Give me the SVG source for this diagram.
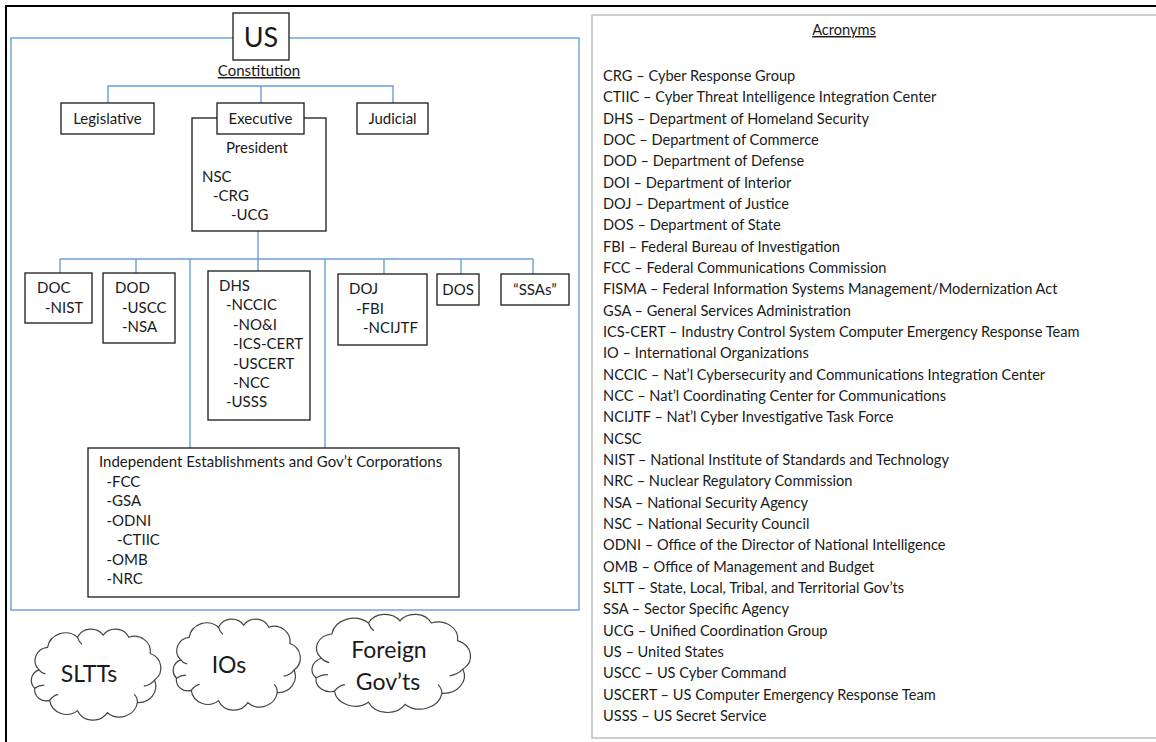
<svg xmlns="http://www.w3.org/2000/svg" width="1156" height="742" viewBox="0 0 1156 742">
<style>
text{font-family:Lato,"Liberation Sans",sans-serif;font-size:15px;fill:#1a1a1a}
.box{fill:#fff;stroke:#1a1a1a;stroke-width:1.3}
.conn{fill:none;stroke:#6A9FD6;stroke-width:1.4}
.mid{text-anchor:middle}
.big{font-size:23px}
.acr text{font-size:14.6px}
</style>
<defs>
<g id="cloudShape">
<path fill="#fff" stroke="#444" stroke-width="1.2" vector-effect="non-scaling-stroke" d="M14,42 A13,13 0 0 1 22,20 A17,17 0 0 1 50,10 A14,14 0 0 1 74,8 A14,14 0 0 1 98,10 A15,15 0 0 1 118,26 A15,15 0 0 1 122,52 A16,16 0 0 1 106,74 A17,17 0 0 1 78,84 A16,16 0 0 1 50,82 A16,16 0 0 1 24,72 A11,11 0 0 1 10,60 A11,11 0 0 1 14,42 Z"/>
<path fill="none" stroke="#444" stroke-width="1.2" vector-effect="non-scaling-stroke" d="M24,72 Q27,67 32,66 M10,60 Q14,57 19,57 M122,52 Q118,57 112,58 M106,74 Q106,69 103,66 M50,10 Q51,14 54,17 M14,42 Q16,45 20,46"/>
</g>
</defs>
<rect x="0" y="0" width="1156" height="742" fill="#fff"/>
<rect x="6" y="6" width="1170" height="760" fill="none" stroke="#000" stroke-width="2"/>
<rect id="us-container" x="11" y="38" width="568" height="572" fill="none" stroke="#6A9FD6" stroke-width="1.4"/>
<g id="connectors">
<path class="conn" d="M108,103 V86 H393 V103 M261,86 V103"/>
<path class="conn" d="M258,231 V259 M60,259 H533"/>
<path class="conn" d="M60,259 V273 M136,259 V273 M190,259 V448 M258,259 V271 M325,259 V448 M384,259 V274 M461,259 V274 M533,259 V274"/>
</g>
<g id="us">
<rect class="box" x="233" y="13" width="56" height="47"/>
<text class="mid" x="261" y="47" style="font-size:27px">US</text>
<text class="mid" x="259" y="76" text-decoration="underline">Constitution</text>
</g>
<g id="legislative">
<rect class="box" x="61" y="103" width="93" height="31"/>
<text class="mid" x="107.5" y="124">Legislative</text>
</g>
<g id="president">
<rect class="box" x="192" y="118" width="134" height="113"/>
<text class="mid" x="257" y="153">President</text>
<text x="202" y="182">NSC</text>
<text x="213" y="201">-CRG</text>
<text x="231" y="220">-UCG</text>
</g>
<g id="executive">
<rect class="box" x="217" y="103" width="87" height="31"/>
<text class="mid" x="260.5" y="124">Executive</text>
</g>
<g id="judicial">
<rect class="box" x="357" y="103" width="71" height="31"/>
<text class="mid" x="392.5" y="124">Judicial</text>
</g>
<g id="doc">
<rect class="box" x="25" y="273" width="67" height="50"/>
<text x="37" y="293">DOC</text>
<text x="45" y="312.5">-NIST</text>
</g>
<g id="dod">
<rect class="box" x="103" y="273" width="72" height="70"/>
<text x="115" y="293">DOD</text>
<text x="122" y="312.5">-USCC</text>
<text x="122" y="332">-NSA</text>
</g>
<g id="dhs">
<rect class="box" x="208" y="271" width="102" height="149"/>
<text x="219" y="290.5">DHS</text>
<text x="226" y="310">-NCCIC</text>
<text x="233" y="329.5">-NO&amp;I</text>
<text x="233" y="349">-ICS-CERT</text>
<text x="233" y="368.5">-USCERT</text>
<text x="233" y="388">-NCC</text>
<text x="226" y="407">-USSS</text>
</g>
<g id="doj">
<rect class="box" x="338" y="274" width="89" height="71"/>
<text x="349" y="294">DOJ</text>
<text x="356" y="313.5">-FBI</text>
<text x="363" y="333">-NCIJTF</text>
</g>
<g id="dos">
<rect class="box" x="437" y="274" width="42" height="31"/>
<text class="mid" x="458" y="295">DOS</text>
</g>
<g id="ssas">
<rect class="box" x="501" y="274" width="68" height="31"/>
<text class="mid" x="535" y="295">“SSAs”</text>
</g>
<g id="independent">
<rect class="box" x="88" y="448" width="371" height="149"/>
<text x="99" y="467">Independent Establishments and Gov’t Corporations</text>
<text x="106.5" y="486.5">-FCC</text>
<text x="106.5" y="506">-GSA</text>
<text x="106.5" y="525.5">-ODNI</text>
<text x="117" y="545">-CTIIC</text>
<text x="106.5" y="564.5">-OMB</text>
<text x="106.5" y="584">-NRC</text>
</g>
<g id="sltts">
<use href="#cloudShape" transform="translate(24,627) scale(1.07,1.02)"/>
<text class="mid big" x="89" y="682">SLTTs</text>
</g>
<g id="ios">
<use href="#cloudShape" transform="translate(166,617) scale(1.05,1.02)"/>
<text class="mid big" x="229" y="673">IOs</text>
</g>
<g id="foreign">
<use href="#cloudShape" transform="translate(303,612) scale(1.31,1.1)"/>
<text class="mid big" x="389" y="658">Foreign</text>
<text class="mid big" x="388" y="690">Gov’ts</text>
</g>
<g id="acronyms" class="acr">
<rect x="592" y="15" width="600" height="723" fill="#fff" stroke="#BFBFBF" stroke-width="1.5"/>
<text class="mid" x="844" y="35" text-decoration="underline">Acronyms</text>
<text x="603" y="81">CRG – Cyber Response Group</text>
<text x="603" y="102.3">CTIIC – Cyber Threat Intelligence Integration Center</text>
<text x="603" y="123.7">DHS – Department of Homeland Security</text>
<text x="603" y="145">DOC – Department of Commerce</text>
<text x="603" y="166.3">DOD – Department of Defense</text>
<text x="603" y="187.7">DOI – Department of Interior</text>
<text x="603" y="209">DOJ – Department of Justice</text>
<text x="603" y="230.3">DOS – Department of State</text>
<text x="603" y="251.7">FBI – Federal Bureau of Investigation</text>
<text x="603" y="273">FCC – Federal Communications Commission</text>
<text x="603" y="294.3">FISMA – Federal Information Systems Management/Modernization Act</text>
<text x="603" y="315.7">GSA – General Services Administration</text>
<text x="603" y="337">ICS-CERT – Industry Control System Computer Emergency Response Team</text>
<text x="603" y="358.3">IO – International Organizations</text>
<text x="603" y="379.7">NCCIC – Nat’l Cybersecurity and Communications Integration Center</text>
<text x="603" y="401">NCC – Nat’l Coordinating Center for Communications</text>
<text x="603" y="422.3">NCIJTF – Nat’l Cyber Investigative Task Force</text>
<text x="603" y="443.7">NCSC</text>
<text x="603" y="465">NIST – National Institute of Standards and Technology</text>
<text x="603" y="486.3">NRC – Nuclear Regulatory Commission</text>
<text x="603" y="507.7">NSA – National Security Agency</text>
<text x="603" y="529">NSC – National Security Council</text>
<text x="603" y="550.3">ODNI – Office of the Director of National Intelligence</text>
<text x="603" y="571.7">OMB – Office of Management and Budget</text>
<text x="603" y="593">SLTT – State, Local, Tribal, and Territorial Gov’ts</text>
<text x="603" y="614.3">SSA – Sector Specific Agency</text>
<text x="603" y="635.7">UCG – Unified Coordination Group</text>
<text x="603" y="657">US – United States</text>
<text x="603" y="678.3">USCC – US Cyber Command</text>
<text x="603" y="699.7">USCERT – US Computer Emergency Response Team</text>
<text x="603" y="721">USSS – US Secret Service</text>
</g>
</svg>
